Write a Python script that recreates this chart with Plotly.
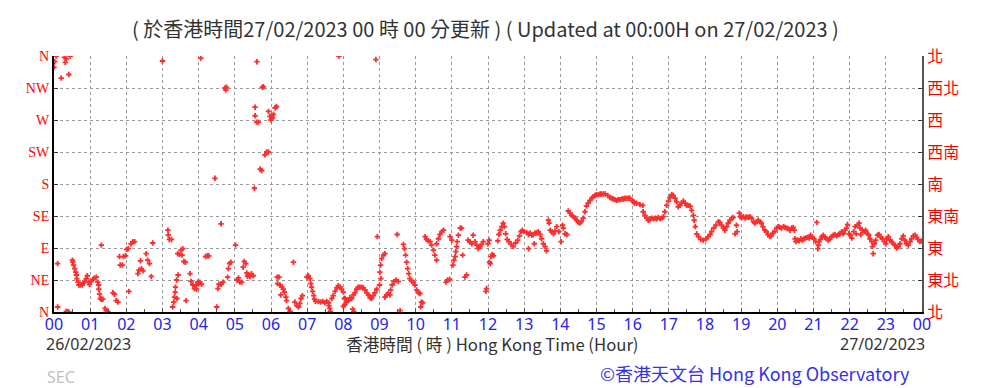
import plotly.graph_objects as go

# ---- data: wind direction readings (hour of day, degrees clockwise from N) ----
obs_hour = [
    0.02, 0.06, 0.0, 0.29, 0.34, 0.31, 0.45, 0.2, 0.41,
    0.10, 0.10, 0.34, 0.38, 0.41,
    0.51, 0.52, 0.54, 0.57, 0.6, 0.62, 0.63, 0.67, 0.69,
    0.73, 0.78, 0.8, 0.85, 0.89, 0.92, 0.97, 0.98, 1.03, 1.08, 1.12, 1.17, 1.21, 1.23, 1.24, 1.26, 1.28, 1.31, 1.35, 1.41, 1.44, 1.49,
    1.31,
    1.63, 1.67, 1.72, 1.77,
    1.81, 1.83, 1.89, 1.92, 1.98, 2.01, 2.05, 2.07, 2.13, 2.18, 2.23,
    2.32, 2.35, 2.39, 2.42, 2.46, 2.55, 2.59, 2.64, 2.69, 2.73,
    3.0,
    3.15, 3.16, 3.19, 3.25,
    3.28, 3.31, 3.33, 3.35, 3.36, 3.39, 3.43, 3.4,
    3.42, 3.47, 3.51, 3.56, 3.54, 3.59, 3.63, 3.65,
    3.76, 3.79, 3.84, 3.88, 3.93, 3.97, 4.0,
    # 04-08
    4.06, 3.94, 4.03, 4.08,
    4.73, 4.75, 4.77,
    4.45, 4.62,
    4.19, 4.24, 4.28,
    4.5,
    4.53, 4.56, 4.62, 4.67,
    4.8, 4.82, 4.85, 4.89,
    5.02,
    5.06, 5.1, 5.14, 5.19, 5.23, 5.26, 5.3,
    5.33, 5.37, 5.42, 5.46, 5.51, 5.35,
    5.54,
    5.56, 5.56, 5.6, 5.65,
    5.61,
    5.7, 5.74,
    5.76, 5.79,
    5.83, 5.88, 5.93,
    5.93, 5.97, 6.0, 6.04, 6.07, 6.11, 6.15, 6.02,
    6.17, 6.22,
    6.18, 6.25, 6.3, 6.34, 6.37, 6.41, 6.43, 6.27,
    6.48, 6.53,
    6.62,
    6.66, 6.71, 6.76, 6.8, 6.83, 6.87,
    6.99, 7.03, 7.08,
    7.1, 7.12, 7.15, 7.18, 7.2, 7.23,
    7.31, 7.37, 7.43, 7.49, 7.54, 7.59,
    7.6, 7.62, 7.64,
    7.68, 7.72, 7.77, 7.82, 7.86, 7.91,
    7.95, 8.0, 8.03,
    7.88,
    # 08-12
    8.9,
    8.05, 8.09, 8.14, 8.18, 8.23, 8.28, 8.32, 8.37, 8.41, 8.46, 8.51, 8.55, 8.6, 8.65, 8.69, 8.74, 8.78, 8.83, 8.87, 8.92,
    8.0, 8.04, 8.26, 8.29,
    8.94,
    9.0, 9.01, 9.03, 9.06, 9.11, 9.15, 9.04,
    9.15, 9.2, 9.24, 9.29, 9.31, 9.35, 9.4, 9.46, 9.52,
    9.49, 9.57,
    9.66, 9.69, 9.72, 9.75, 9.78, 9.81, 9.84, 9.89, 9.94, 9.98, 10.03, 10.08, 10.12,
    10.16, 10.19, 10.14,
    10.26, 10.3, 10.35, 10.4, 10.44, 10.49, 10.53, 10.58,
    10.58, 10.63, 10.67, 10.72, 10.77,
    10.84, 10.88, 10.94,
    10.95, 11.0, 11.03, 11.06, 11.09, 11.11, 11.13, 11.15, 11.18, 11.23, 11.27,
    11.3,
    11.36, 11.41,
    11.45, 11.5, 11.55, 11.59, 11.64, 11.69, 11.73, 11.78, 11.82, 11.87,
    11.94, 11.96,
    12.04,
    # 12-16
    12.0, 12.03,
    12.06, 12.08, 12.12, 12.15,
    12.27, 12.3, 12.34, 12.38, 12.42, 12.45, 12.49, 12.53, 12.58, 12.64, 12.7, 12.76, 12.82, 12.87, 12.91, 12.95,
    13.0, 13.07, 13.12, 13.16, 13.21, 13.25, 13.3, 13.35, 13.39, 13.44, 13.48, 13.53, 13.58, 13.62,
    13.12, 13.28,
    13.67, 13.69, 13.72, 13.76, 13.81, 13.85, 13.9, 13.96, 14.02, 14.06, 14.08, 14.13, 14.18,
    14.22, 14.27, 14.31, 14.36, 14.41, 14.45, 14.5, 14.54, 14.58, 14.63, 14.68, 14.72, 14.77, 14.82, 14.87, 14.91, 14.96,
    15.0, 15.05, 15.1, 15.14, 15.19, 15.24, 15.31, 15.37, 15.42, 15.46, 15.51, 15.56, 15.6, 15.65, 15.7, 15.74, 15.78,
    15.83, 15.88, 15.92, 15.99, 16.05,
    # 16-20
    16.02, 16.11, 16.2, 16.28, 16.29, 16.34, 16.39, 16.43, 16.48, 16.53, 16.58, 16.62, 16.67, 16.71, 16.76, 16.8, 16.85,
    16.89, 16.94, 16.99, 17.03, 17.08, 17.12, 17.17, 17.22, 17.26, 17.31, 17.35, 17.4, 17.45, 17.49, 17.54, 17.59, 17.63,
    17.68, 17.7, 17.73, 17.77, 17.82, 17.88, 17.95, 18.03, 18.09, 18.14, 18.18, 18.24, 18.3, 18.37, 18.41, 18.46, 18.51,
    18.55, 18.6, 18.64, 18.69, 18.74, 18.78, 18.83, 18.87, 18.89, 18.95, 18.97, 19.01, 19.06, 19.11, 19.15, 19.2, 19.24,
    19.29, 19.34, 19.38, 19.43, 19.47, 19.52, 19.56, 19.6, 19.65, 19.7, 19.74, 19.79, 19.83, 19.88, 19.92, 19.98,
    # 20-24
    20.03, 20.07, 20.12, 20.17, 20.21, 20.26, 20.3, 20.35, 20.39, 20.44, 20.47,
    20.49, 20.51, 20.55, 20.6, 20.65, 20.69, 20.74, 20.78, 20.83, 20.88, 20.92, 20.97, 21.01, 21.06, 21.09, 21.12, 21.14,
    21.15, 21.19, 21.23, 21.27, 21.32, 21.36, 21.41, 21.45, 21.5, 21.55, 21.59, 21.64, 21.69, 21.73, 21.78, 21.82, 21.87,
    21.91, 21.94, 21.98, 22.02, 22.06, 22.11, 22.15, 22.18, 22.22, 22.26, 22.29, 22.31, 22.35, 22.41, 22.44, 22.5, 22.53,
    22.56, 22.61, 22.63, 22.65, 22.68, 22.72, 22.77, 22.81, 22.87, 22.9, 22.96, 23.0, 23.03, 23.07, 23.12, 23.16, 23.21,
    23.25, 23.3, 23.35, 23.39, 23.44, 23.48, 23.53, 23.57, 23.62, 23.67, 23.71, 23.76, 23.81, 23.85, 23.89, 23.94, 23.98,
]

obs_dir = [
    352, 360, 344, 358, 356, 351, 360, 329, 334,
    68, 7, 1, 0, 0,
    73, 70, 66, 61, 56, 52, 47, 42, 38,
    38, 38, 41, 43, 47, 51, 42, 39, 43, 46, 48, 49, 42, 38, 32, 25, 19, 18, 18, 5, 2, 1,
    94,
    27, 25, 16, 14,
    78, 66, 66, 78, 79, 88, 89, 29, 96, 99, 99,
    54, 59, 72, 61, 58, 82, 73, 68, 50, 97,
    353,
    115, 108, 102, 102,
    7, 14, 21, 28, 35, 45, 52, 19,
    82, 81, 87, 89, 80, 71, 70, 16,
    54, 43, 38, 33, 38, 42, 40,
    # 04-08
    357, 32, 42, 39,
    315, 312, 316,
    188, 124,
    78, 79, 79,
    7,
    33, 39, 39, 42,
    49, 61, 68, 70,
    94,
    45, 48, 42, 42, 63, 71, 68,
    55, 52, 50, 54, 51, 50,
    174,
    288, 276, 267, 267,
    352,
    201, 199,
    316, 317,
    221, 225, 225,
    282, 275, 270, 273, 278, 287, 289, 276,
    49, 49,
    40, 38, 35, 32, 28, 21, 16, 24,
    5, 1,
    70,
    14, 9, 7, 12, 19, 23,
    49, 51, 47,
    40, 35, 29, 23, 18, 15,
    15, 14, 15, 13, 15, 13,
    9, 5, 1,
    19, 23, 29, 34, 37, 35,
    32, 28, 19,
    360,
    # 08-12
    355,
    19, 14, 16, 20, 19, 24, 27, 32, 35, 35, 35, 34, 31, 27, 24, 20, 19, 23, 27, 32,
    8, 10, 4, 1,
    106,
    38, 56, 66, 75, 80, 82, 47,
    21, 24, 26, 24, 31, 38, 43, 45, 43,
    109, 2,
    95, 89, 80, 70, 61, 54, 47, 43, 42, 38, 31, 27, 26,
    14, 13, 7,
    106, 102, 100, 99, 94, 87, 80, 73,
    96, 103, 109, 113, 115,
    42, 45, 46,
    106, 101, 66, 73, 78, 85, 92, 99, 108, 118, 118,
    80,
    49, 52,
    101, 99, 96, 108, 99, 94, 89, 92, 95, 99,
    29, 33,
    70,
    # 12-16
    96, 101,
    68, 78, 81, 79,
    100, 109, 115, 120, 125, 120, 110, 102, 99, 95, 92, 97, 101, 107, 113, 115,
    113, 112, 109, 111, 108, 109, 111, 111, 113, 109, 103, 96, 92, 86,
    89, 96,
    129, 125, 115, 113, 110, 114, 120, 113, 99, 122, 118, 110, 109,
    142, 139, 136, 134, 132, 129, 126, 125, 127, 132, 141, 149, 153, 157, 160, 162, 164,
    165, 165, 166, 166, 166, 166, 164, 161, 160, 159, 158, 157, 158, 158, 159, 159, 160,
    160, 160, 160, 157, 153,
    # 16-20
    155, 153, 151, 150, 141, 136, 132, 129, 130, 132, 131, 132, 131, 133, 131, 132, 134,
    141, 150, 156, 161, 165, 164, 160, 155, 148, 150, 153, 156, 153, 150, 150, 149, 143,
    136, 129, 120, 110, 106, 102, 101, 103, 106, 109, 113, 118, 122, 127, 126, 122, 118,
    115, 120, 125, 129, 132, 133, 110, 122, 113, 139, 134, 133, 134, 132, 134, 133, 134,
    132, 127, 125, 127, 129, 127, 125, 120, 115, 113, 109, 106, 107, 111, 113, 118,
    # 20-24
    120, 119, 118, 120, 119, 118, 117, 115, 118, 119, 115,
    103, 99, 101, 100, 103, 101, 103, 104, 105, 104, 108, 105, 103, 99, 126, 89, 94,
    99, 102, 106, 108, 105, 103, 101, 103, 106, 108, 109, 107, 109, 110, 113, 110, 115,
    118, 123, 110, 108, 104, 113, 120, 110, 122, 125, 118, 109, 115, 113, 115, 110, 108,
    103, 99, 92, 82, 96, 101, 108, 109, 105, 103, 99, 96, 103, 106, 101, 99, 96,
    94, 90, 92, 96, 103, 107, 101, 96, 94, 99, 103, 107, 108, 105, 102, 99, 100,
]

hour_ticks = list(range(0, 25))
hour_labels = ["%02d" % (h % 24) for h in hour_ticks]
dir_ticks = [0, 45, 90, 135, 180, 225, 270, 315, 360]
dir_labels_en = ["N", "NE", "E", "SE", "S", "SW", "W", "NW", "N"]
dir_labels_zh = ["北", "東北", "東", "東南", "南", "西南", "西", "西北", "北"]

title_text = "( 於香港時間27/02/2023 00 時 00 分更新 ) ( Updated at 00:00H on 27/02/2023 )"
x_title = "香港時間 ( 時 ) Hong Kong Time (Hour)"
start_date = "26/02/2023"
end_date = "27/02/2023"
credit = "©香港天文台 Hong Kong Observatory"

# page body has an 8px margin: figure is drawn at (8, 8)
OFF = 8
W, H = 983 - OFF, 388 - OFF
PL, PR, PT, PB = 54, 922, 56, 312  # plot area in page pixels
L, T = PL - OFF, PT - OFF
R = W - (PR - OFF)
B = H - (PB - OFF)


def px(x):
    return (x - PL) / (PR - PL)


def py(y):
    return (PB - y) / (PB - PT)


fig = go.Figure()
fig.add_trace(go.Scatter(
    x=obs_hour, y=obs_dir, mode="markers",
    marker=dict(symbol="cross", size=4.5, color="rgb(255,45,45)", line=dict(width=0)),
    showlegend=False, hoverinfo="x+y",
))
fig.add_trace(go.Scatter(x=[None], y=[None], yaxis="y2", showlegend=False))

grid = dict(showgrid=True, gridcolor="#9a9a9a", gridwidth=1, griddash="dot")
fig.update_layout(
    width=W, height=H,
    margin=dict(l=L, r=R, t=T, b=B, autoexpand=False),
    paper_bgcolor="white", plot_bgcolor="white",
    xaxis=dict(range=[0, 24], tickvals=hour_ticks, ticktext=hour_labels,
               tickfont=dict(family="Noto Sans", size=16, color="#2222ee"),
               ticklabelstandoff=-3,
               showline=True, linecolor="black", linewidth=2,
               ticks="inside", ticklen=4, tickcolor="#555",
               minor=dict(dtick=0.5, ticks="inside", ticklen=3, tickcolor="#555", showgrid=False),
               zeroline=False, fixedrange=True, **grid),
    yaxis=dict(range=[0, 360], tickvals=dir_ticks, ticktext=dir_labels_en,
               tickfont=dict(family="Liberation Serif", size=14, color="red"),
               showline=True, linecolor="black", linewidth=2,
               ticks="inside", ticklen=4, tickcolor="#333",
               zeroline=False, fixedrange=True, **grid),
    yaxis2=dict(range=[0, 360], tickvals=dir_ticks, ticktext=dir_labels_zh,
                overlaying="y", side="right",
                tickfont=dict(family="Noto Sans CJK TC", size=16, color="red"),
                showline=True, linecolor="#555", linewidth=2,
                ticks="inside", ticklen=4, tickcolor="#333",
                showgrid=False, zeroline=False, fixedrange=True),
)

ann = [
    dict(text=title_text, x=px(485), y=py(28), xanchor="center", yanchor="middle",
         font=dict(family="Noto Sans CJK TC", size=20, color="#333")),
    dict(text=start_date, x=px(44), y=py(344), xanchor="left", yanchor="middle",
         font=dict(family="Noto Sans", size=16, color="#333")),
    dict(text=x_title, x=px(493), y=py(344), xanchor="center", yanchor="middle",
         font=dict(family="Noto Sans CJK TC", size=16.7, color="#333")),
    dict(text=end_date, x=px(927), y=py(344), xanchor="right", yanchor="middle",
         font=dict(family="Noto Sans", size=16, color="#333")),
    dict(text="SEC", x=px(45), y=py(377), xanchor="left", yanchor="middle",
         font=dict(family="Noto Sans", size=16, color="#c0c0c0")),
    dict(text=credit, x=px(912), y=py(373), xanchor="right", yanchor="middle",
         font=dict(family="Noto Sans CJK TC", size=18, color="#3333ee")),
]
for a in ann:
    fig.add_annotation(xref="paper", yref="paper", showarrow=False, **a)

fig.write_html("out.html")
